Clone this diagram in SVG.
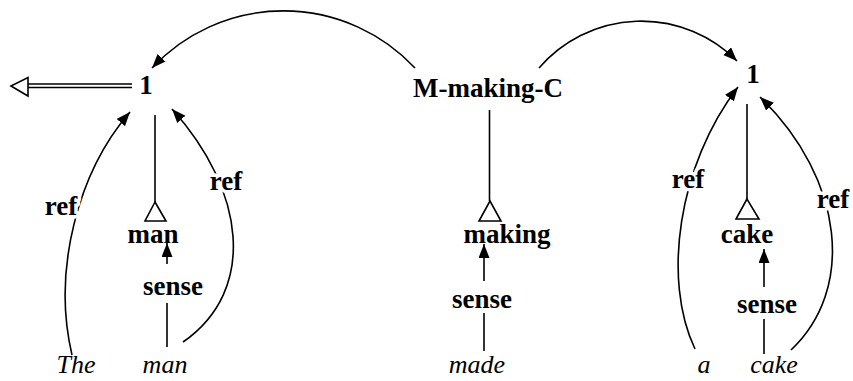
<svg xmlns="http://www.w3.org/2000/svg" width="853" height="381" viewBox="0 0 853 381">
<style>
.b{font-family:"Liberation Serif","Times New Roman",serif;font-weight:bold;font-size:27px;text-anchor:middle;fill:#000}
.i{font-family:"Liberation Serif","Times New Roman",serif;font-style:italic;font-size:26px;text-anchor:middle;fill:#000}
.halo{paint-order:stroke;stroke:#fff;stroke-width:7px;stroke-linejoin:round}
.ln{fill:none;stroke:#000;stroke-width:1.6}
.arr{marker-end:url(#ah)}
.tri{fill:#fff;stroke:#000;stroke-width:1.6}
</style>
<defs>
<marker id="ah" markerUnits="userSpaceOnUse" markerWidth="15" markerHeight="12" refX="14" refY="5.5" orient="auto">
<path d="M0,0 L14,5.5 L0,11 z" fill="#000"/>
</marker>
</defs>
<rect width="853" height="381" fill="#fff"/>
<g id="connectors">
<line class="ln" x1="27" y1="84" x2="132" y2="84"/>
<line class="ln" x1="27" y1="87.5" x2="132" y2="87.5"/>
<path class="tri" d="M11,86 L28,77.5 L28,96 z"/>
<path class="ln arr" d="M415,68 A180,180 0 0 0 152,68"/>
<path class="ln arr" d="M539,68 A135,135 0 0 1 737,61"/>
<line class="ln" x1="155" y1="115" x2="155" y2="202"/>
<path class="tri" d="M155,202 L145,221 L166,221 z"/>
<line class="ln" x1="489.5" y1="110" x2="489.5" y2="201"/>
<path class="tri" d="M490,201 L479,221 L501,221 z"/>
<line class="ln" x1="747" y1="104" x2="747" y2="199"/>
<path class="tri" d="M747,199 L736,219 L759,219 z"/>
<line class="ln arr" x1="167" y1="264" x2="167" y2="243"/>
<line class="ln" x1="167" y1="303" x2="167" y2="347"/>
<line class="ln arr" x1="484" y1="281" x2="484" y2="244"/>
<line class="ln" x1="484" y1="313" x2="484" y2="351"/>
<line class="ln arr" x1="764" y1="287" x2="764" y2="249"/>
<line class="ln" x1="764" y1="319" x2="764" y2="354"/>
<path class="ln arr" d="M72,355 C52,270 78,172 130,112"/>
<path class="ln arr" d="M183,342 C258,290 245,190 172,109"/>
<path class="ln arr" d="M695,349 C662,280 678,165 738,87"/>
<path class="ln arr" d="M791,350 C855,290 845,180 760,97"/>
</g>
<g id="one-left"><text class="b" x="146" y="94">1</text></g>
<g id="m-making-c"><text class="b" x="488" y="97">M-making-C</text></g>
<g id="one-right"><text class="b" x="753" y="83">1</text></g>
<g id="man"><text class="b" x="153" y="243">man</text></g>
<g id="making"><text class="b" x="507" y="243">making</text></g>
<g id="cake"><text class="b" x="747" y="243">cake</text></g>
<g id="sense-1"><text class="b halo" x="173" y="295">sense</text></g>
<g id="sense-2"><text class="b halo" x="482" y="308">sense</text></g>
<g id="sense-3"><text class="b halo" x="767" y="313">sense</text></g>
<g id="ref-1"><text class="b halo" x="61" y="215">ref</text></g>
<g id="ref-2"><text class="b halo" x="226" y="190">ref</text></g>
<g id="ref-3"><text class="b halo" x="688" y="188">ref</text></g>
<g id="ref-4"><text class="b halo" x="833" y="208">ref</text></g>
<g id="w-the"><text class="i" x="76" y="373">The</text></g>
<g id="w-man"><text class="i" x="165" y="373">man</text></g>
<g id="w-made"><text class="i" x="477" y="373">made</text></g>
<g id="w-a"><text class="i" x="704" y="373">a</text></g>
<g id="w-cake"><text class="i" x="774" y="373">cake</text></g>
</svg>
